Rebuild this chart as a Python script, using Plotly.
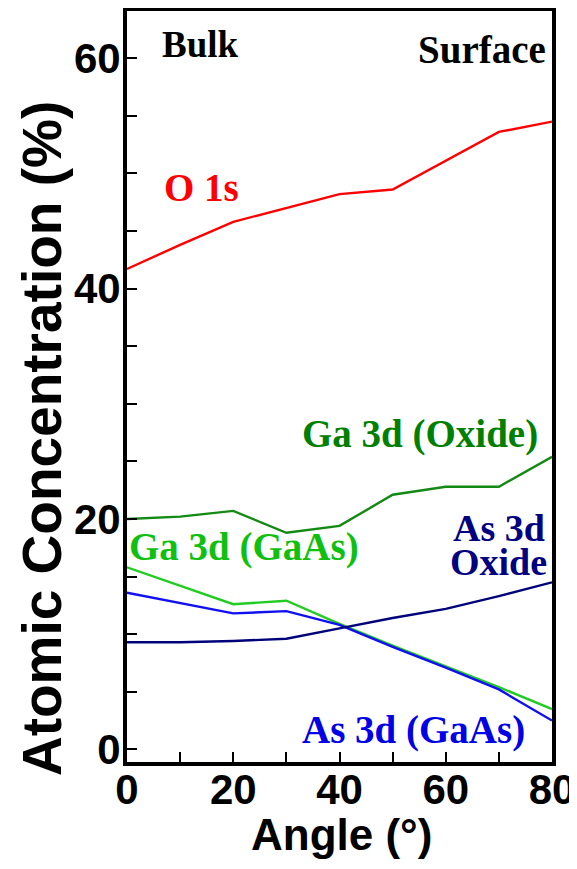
import plotly.graph_objects as go

angles = [0, 10, 20, 30, 40, 50, 60, 70, 80]
o1s = [41.7, 43.8, 45.8, 47.0, 48.2, 48.6, 51.1, 53.6, 54.5]
ga_oxide = [20.0, 20.2, 20.7, 18.8, 19.4, 22.1, 22.8, 22.8, 25.4]
ga_gaas = [15.8, 14.2, 12.6, 12.9, 10.9, 9.0, 7.2, 5.4, 3.5]
as_gaas = [13.6, 12.7, 11.8, 12.0, 10.8, 8.9, 7.1, 5.2, 2.5]
as_oxide = [9.3, 9.3, 9.4, 9.6, 10.5, 11.4, 12.2, 13.3, 14.5]

x_tickvals = [0, 10, 20, 30, 40, 50, 60, 70, 80]
x_ticktext = ["0", "", "20", "", "40", "", "60", "", "80"]
y_tickvals = [0, 5, 10, 15, 20, 25, 30, 35, 40, 45, 50, 55, 60]
y_ticktext = ["0", "", "", "", "20", "", "", "", "40", "", "", "", "60"]

series = [
    (o1s, "#ff0000"),
    (ga_oxide, "#138a13"),
    (ga_gaas, "#22cc22"),
    (as_gaas, "#1010f0"),
    (as_oxide, "#00007a"),
]

fig = go.Figure()
for vals, col in series:
    fig.add_trace(go.Scatter(x=angles, y=vals, mode="lines",
                             line=dict(color=col, width=2.4), showlegend=False))

serif = "Liberation Serif, Times New Roman, serif"
ann = [
    ("Bulk", 6.2, 61.2, "left", "#000000", 37),
    ("Surface", 79.2, 60.8, "right", "#000000", 39),
    ("O 1s", 6.6, 48.8, "left", "#ff0000", 39),
    ("Ga 3d (Oxide)", 77.7, 27.4, "right", "#008000", 39),
    ("Ga 3d (GaAs)", 0.0, 17.6, "left", "#10c010", 39),
    ("As 3d", 79.0, 19.2, "right", "#000080", 38),
    ("Oxide", 79.4, 16.3, "right", "#000080", 38),
    ("As 3d (GaAs)", 32.6, 1.7, "left", "#0000e6", 39),
]
for t, x, y, xa, col, sz in ann:
    fig.add_annotation(x=x, y=y, text="<b>%s</b>" % t, showarrow=False,
                       xanchor=xa, yanchor="middle", xref="x", yref="y",
                       font=dict(family=serif, size=sz, color=col))

sans = "Liberation Sans, Arial, sans-serif"
fig.add_annotation(x=0.505, y=-0.097, xref="paper", yref="paper",
                   text="<b>Angle (°)</b>", showarrow=False,
                   xanchor="center", yanchor="middle",
                   font=dict(family=sans, size=44, color="black"))
fig.add_annotation(x=-0.2, y=0.43, xref="paper", yref="paper",
                   text="<b>Atomic Concentration (%)</b>", showarrow=False,
                   textangle=-90, xanchor="center", yanchor="middle",
                   font=dict(family=sans, size=55, color="black"))

fig.update_layout(
    width=569, height=853,
    margin=dict(l=119, r=25, t=3, b=99),
    plot_bgcolor="white", paper_bgcolor="white",
    xaxis=dict(range=[0, 80], tickvals=x_tickvals, ticktext=x_ticktext,
               ticks="inside", ticklen=10, tickwidth=2, tickcolor="black",
               showline=True, linecolor="black", linewidth=4, mirror=True,
               showgrid=False, zeroline=False, automargin=False,
               ticklabelstandoff=-12,
               tickfont=dict(family=sans, size=42, color="black", weight="bold")),
    yaxis=dict(range=[-1.1, 64.1], tickvals=y_tickvals, ticktext=y_ticktext,
               ticks="inside", ticklen=10, tickwidth=2, tickcolor="black",
               showline=True, linecolor="black", linewidth=4, mirror=True,
               showgrid=False, zeroline=False, automargin=False,
               ticklabelstandoff=-6,
               tickfont=dict(family=sans, size=42, color="black", weight="bold")),
)

fig.write_html("out.html")
